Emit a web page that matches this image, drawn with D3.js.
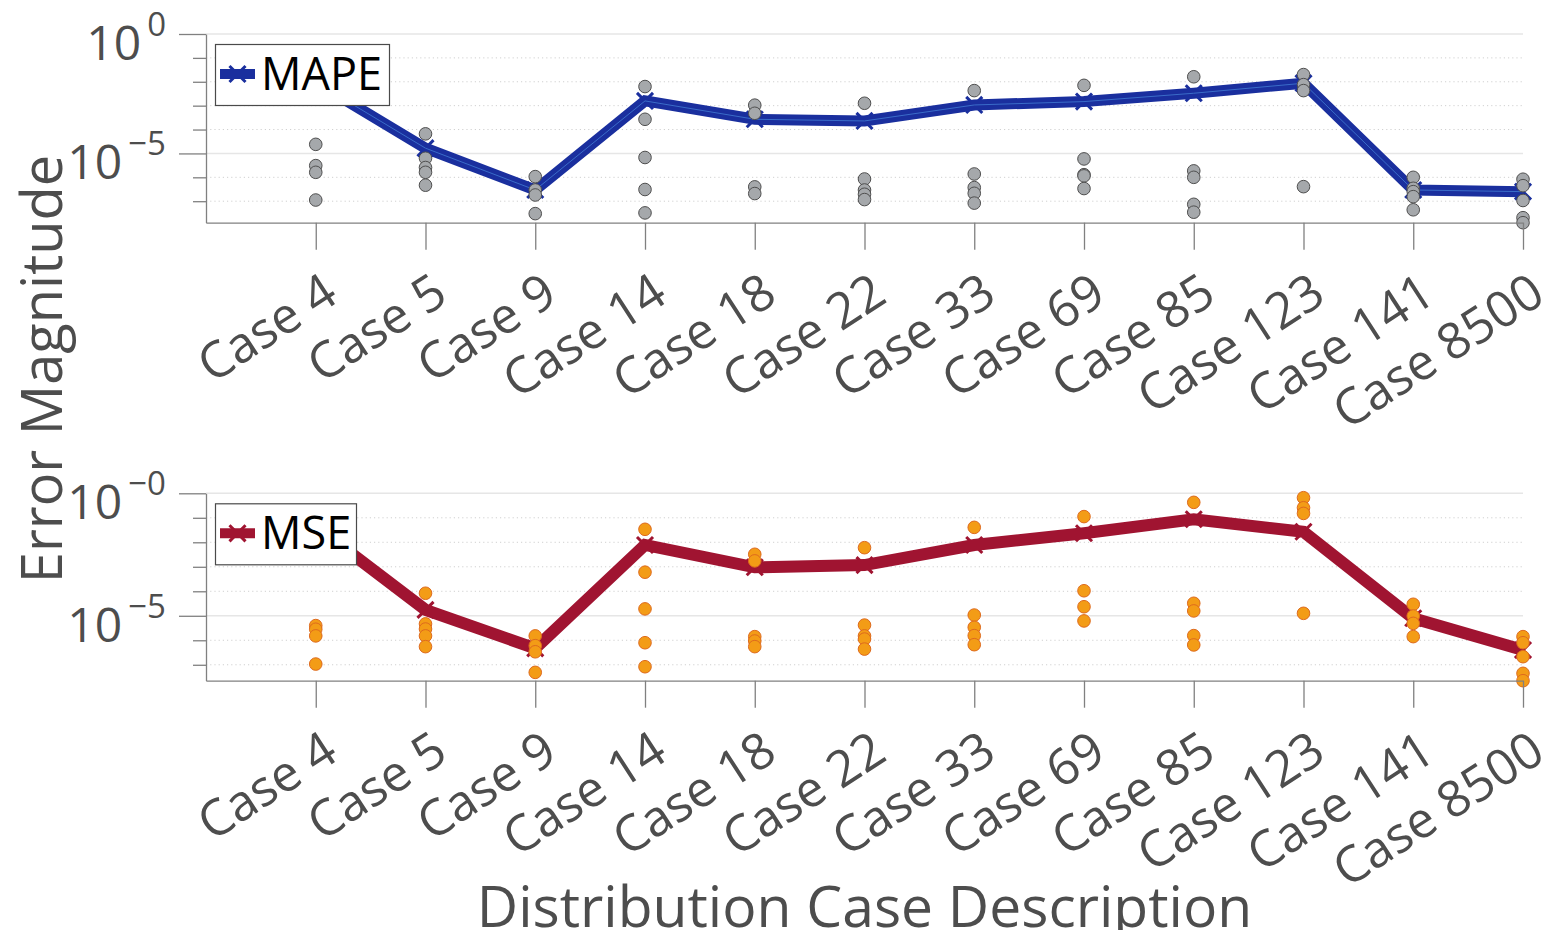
<!DOCTYPE html>
<html>
<head>
<meta charset="utf-8">
<script src="https://cdnjs.cloudflare.com/ajax/libs/d3/7.8.5/d3.min.js"></script>
<style>
  body { margin: 0; background: #fff; }
  svg { display: block; }
  text { font-family: "Open Sans", sans-serif; }
</style>
</head>
<body>
<svg id="chart" width="1551" height="930"></svg>
<script>
// cases on the x axis
const cases = ['Case 4', 'Case 5', 'Case 9', 'Case 14', 'Case 18', 'Case 22',
  'Case 33', 'Case 69', 'Case 85', 'Case 123', 'Case 141', 'Case 8500']

// MAPE: mean line and individual runs
const mapeMean = [9.55e-3, 1.66e-5, 2.95e-7, 1.58e-3, 2.69e-4, 2.29e-4,
  1.07e-3, 1.48e-3, 3.31e-3, 8.71e-3, 2.95e-7, 2.51e-7]
const mapeRuns = [
  [2.40e-5, 3.09e-6, 1.62e-6, 1.12e-7],
  [6.61e-5, 6.31e-6, 2.57e-6, 1.62e-6, 4.68e-7],
  [1.07e-6, 2.95e-7, 1.82e-7, 3.02e-8],
  [6.31e-3, 2.69e-4, 6.76e-6, 3.09e-7, 3.24e-8],
  [1.05e-3, 4.79e-4, 3.98e-7, 2.09e-7],
  [1.26e-3, 8.51e-7, 2.95e-7, 1.95e-7, 1.17e-7],
  [4.27e-3, 1.38e-6, 3.72e-7, 2.14e-7, 8.32e-8],
  [7.08e-3, 5.89e-6, 1.29e-6, 1.15e-6, 3.39e-7],
  [1.62e-2, 1.86e-6, 1.00e-6, 7.41e-8, 3.47e-8],
  [2.00e-2, 7.59e-3, 4.27e-3, 4.07e-7],
  [1.00e-6, 3.47e-7, 2.51e-7, 1.55e-7, 4.37e-8],
  [8.32e-7, 4.47e-7, 1.07e-7, 2.04e-8, 1.26e-8]
]

// MSE: mean line and individual runs
const mseMean = [4.47e-2, 1.74e-5, 4.68e-7, 7.76e-3, 9.55e-4, 1.17e-3,
  7.76e-3, 2.34e-2, 8.71e-2, 2.69e-2, 7.94e-6, 3.98e-7]
const mseRuns = [
  [3.98e-6, 2.82e-6, 1.51e-6, 1.07e-7],
  [8.32e-5, 4.68e-6, 2.88e-6, 1.51e-6, 5.50e-7],
  [1.51e-6, 6.03e-7, 3.39e-7, 4.90e-8],
  [3.39e-2, 6.03e-4, 1.91e-5, 7.94e-7, 8.32e-8],
  [3.24e-3, 1.74e-3, 1.41e-6, 9.33e-7, 5.50e-7],
  [6.03e-3, 4.17e-6, 1.51e-6, 1.12e-6, 4.37e-7],
  [4.07e-2, 1.07e-5, 3.39e-6, 1.55e-6, 6.61e-7],
  [1.12e-1, 1.05e-4, 2.34e-5, 6.17e-6],
  [4.27e-1, 3.24e-5, 1.58e-5, 1.55e-6, 6.46e-7],
  [6.61e-1, 2.57e-1, 1.51e-1, 1.26e-5],
  [2.95e-5, 9.77e-6, 4.90e-6, 1.41e-6],
  [1.41e-6, 7.94e-7, 2.14e-7, 4.47e-8, 2.24e-8]
]

// y ticks
const decades = [1, 1e-1, 1e-2, 1e-3, 1e-4, 1e-5, 1e-6, 1e-7]
const majorTicks = [1, 1e-5]
const topTickExp = ['0', '\u22125']
const bottomTickExp = ['\u22120', '\u22125']

const svg = d3.select('#chart')
const x = d3.scaleLinear().domain([0, cases.length]).range([206, 1523])
const axisColor = '#808080'
const textColor = '#4d4d4d'

function panel(opt) {
  const y = d3.scaleLog().domain([opt.min, 1]).range([opt.bottom, opt.top])
  const g = svg.append('g')
  const minor = decades.filter(d => !majorTicks.includes(d))

  // grid
  g.selectAll('.minor-grid').data(minor).join('line')
    .attr('x1', x(0)).attr('x2', x(cases.length))
    .attr('y1', d => y(d)).attr('y2', d => y(d))
    .attr('stroke', '#d0d0d0').attr('stroke-width', 1)
    .attr('stroke-dasharray', '1.2,3')
  g.selectAll('.major-grid').data(majorTicks).join('line')
    .attr('x1', x(0)).attr('x2', x(cases.length))
    .attr('y1', d => y(d)).attr('y2', d => y(d))
    .attr('stroke', '#e6e6e6').attr('stroke-width', 1.5)

  // mean line with x markers
  const pts = opt.mean.map((v, i) => [x(i + 1), y(v)])
  const line = d3.line()
  const cross = d3.symbol().type(d3.symbolX).size(170)
  g.selectAll('.mk').data(pts).join('path')
    .attr('transform', d => `translate(${d[0]},${d[1]})`)
    .attr('d', cross).attr('fill', 'none')
    .attr('stroke', opt.color).attr('stroke-width', 3)
  g.append('path').attr('d', line(pts))
    .attr('fill', 'none').attr('stroke', opt.color)
    .attr('stroke-width', opt.lineWidth).attr('stroke-linejoin', 'miter')
  if (opt.inner) {
    g.append('path').attr('d', line(pts))
      .attr('fill', 'none').attr('stroke', opt.inner).attr('stroke-width', 1)
  }

  // runs
  const dots = []
  opt.runs.forEach((r, i) => r.forEach(v => dots.push([i + 1, v])))
  g.selectAll('.dot').data(dots).join('circle')
    .attr('cx', d => x(d[0])).attr('cy', d => y(d[1])).attr('r', 6.3)
    .attr('fill', opt.dotFill).attr('stroke', opt.dotStroke).attr('stroke-width', 1)

  // y axis
  const ya = g.append('g').attr('transform', `translate(${x(0)},0)`)
    .call(d3.axisLeft(y).tickValues(minor).tickSize(13).tickSizeOuter(0).tickFormat(''))
  ya.append('g')
    .call(d3.axisLeft(y).tickValues(majorTicks).tickSize(27).tickFormat(''))
    .select('.domain').remove()
  ya.selectAll('path, line').attr('stroke', axisColor).attr('stroke-width', 1.3)

  majorTicks.forEach((v, i) => {
    const t = g.append('text').attr('x', 166).attr('y', y(v) + 26)
      .attr('text-anchor', 'end').attr('fill', textColor).attr('font-size', 48)
    t.append('tspan').text('10')
    t.append('tspan').attr('dx', 6).attr('dy', -24).attr('font-size', 33).text(opt.tickExp[i])
  })

  // x axis
  const xa = g.append('g').attr('transform', `translate(0,${opt.bottom})`)
    .call(d3.axisBottom(x).tickValues(d3.range(1, cases.length + 1))
      .tickSize(27).tickSizeOuter(0).tickFormat(i => cases[i - 1]))
  xa.selectAll('path, line').attr('stroke', axisColor).attr('stroke-width', 1.3)
  xa.selectAll('text')
    .attr('font-size', 50).attr('fill', textColor)
    .attr('font-family', '"Open Sans", sans-serif')
    .attr('text-anchor', 'end').attr('dy', null).attr('y', null)
    .attr('transform', 'translate(24,78) rotate(-33)')

  // legend
  const lg = g.append('g')
  lg.append('rect').attr('x', 215.5).attr('y', opt.top + 10.5)
    .attr('width', opt.legendW).attr('height', 61)
    .attr('fill', '#fff').attr('stroke', '#4a4a4a').attr('stroke-width', 1.2)
  const ly = opt.top + 40
  lg.append('path').attr('transform', `translate(237.5,${ly})`)
    .attr('d', cross).attr('fill', 'none').attr('stroke', opt.color).attr('stroke-width', 3)
  lg.append('line').attr('x1', 220).attr('x2', 255).attr('y1', ly).attr('y2', ly)
    .attr('stroke', opt.color).attr('stroke-width', 10)
  lg.append('text').attr('x', 261).attr('y', ly + 16)
    .attr('font-size', 45).attr('fill', '#000').text(opt.label)
}

panel({ top: 34, bottom: 222.7, min: Math.pow(10, -7.9), mean: mapeMean, runs: mapeRuns,
  color: '#1a2f9e', inner: '#3a6cc8', lineWidth: 11, dotFill: '#a5a8ab', dotStroke: '#4f4f4f',
  tickExp: topTickExp, label: 'MAPE', legendW: 174 })
panel({ top: 493.3, bottom: 680.7, min: Math.pow(10, -7.65), mean: mseMean, runs: mseRuns,
  color: '#a01431', inner: null, lineWidth: 12, dotFill: '#f39c16', dotStroke: '#de6a1e',
  tickExp: bottomTickExp, label: 'MSE', legendW: 141 })

// axis titles
svg.append('text').attr('transform', 'translate(62,369) rotate(-90)')
  .attr('text-anchor', 'middle').attr('font-size', 56).attr('fill', textColor)
  .text('Error Magnitude')
svg.append('text').attr('x', 864.5).attr('y', 927)
  .attr('text-anchor', 'middle').attr('font-size', 57).attr('fill', textColor)
  .text('Distribution Case Description')
</script>
</body>
</html>
